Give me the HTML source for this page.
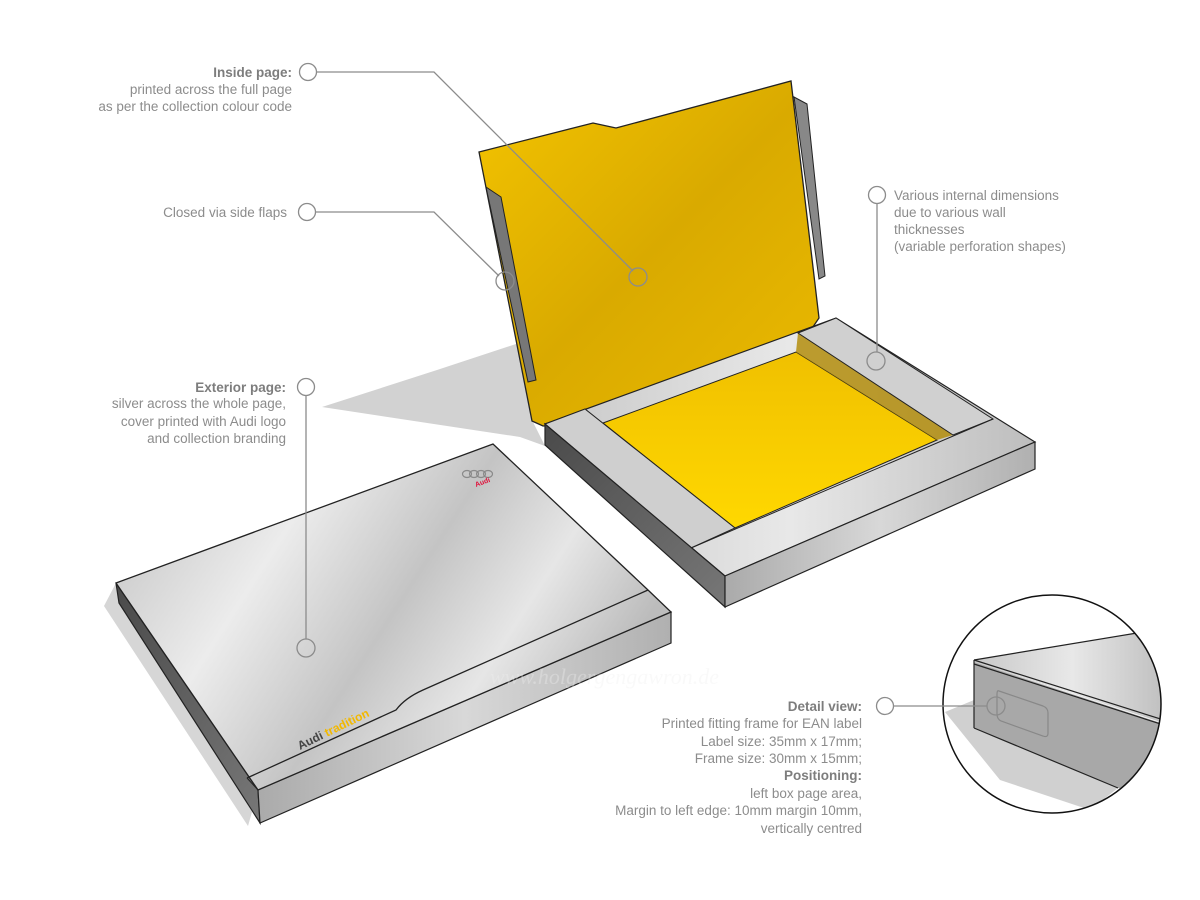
<!DOCTYPE html>
<html><head><meta charset="utf-8"><style>
html,body{margin:0;padding:0;background:#fff;}
svg{display:block;}
text{font-family:"Liberation Sans",sans-serif;font-size:13.5px;fill:#8c8c8c;}
.b{font-weight:bold;fill:#7d7d7d;}
</style></head><body>
<svg width="1200" height="900" viewBox="0 0 1200 900" xmlns="http://www.w3.org/2000/svg">
<defs>
<linearGradient id="yl" x1="0" y1="0" x2="1" y2="1"><stop offset="0" stop-color="#f4c400"/><stop offset=".5" stop-color="#d9aa00"/><stop offset="1" stop-color="#ebba00"/></linearGradient>
<linearGradient id="fl" x1="0" y1="0" x2="0" y2="1"><stop offset="0" stop-color="#f0c000"/><stop offset="1" stop-color="#ffd800"/></linearGradient>
<linearGradient id="sv" x1="0" y1="0" x2="1" y2="0.4"><stop offset="0" stop-color="#bdbdbd"/><stop offset=".35" stop-color="#ececec"/><stop offset=".6" stop-color="#c4c4c4"/><stop offset=".8" stop-color="#e6e6e6"/><stop offset="1" stop-color="#bcbcbc"/></linearGradient>
<linearGradient id="rim" x1="0" y1="0" x2="1" y2="0"><stop offset="0" stop-color="#c8c8c8"/><stop offset=".5" stop-color="#e8e8e8"/><stop offset="1" stop-color="#bdbdbd"/></linearGradient>
<linearGradient id="dk" x1="0" y1="0" x2="1" y2="1"><stop offset="0" stop-color="#4a4a4a"/><stop offset="1" stop-color="#777"/></linearGradient>
<linearGradient id="fr" x1="0" y1="0" x2="1" y2="0"><stop offset="0" stop-color="#aaa"/><stop offset=".5" stop-color="#d8d8d8"/><stop offset="1" stop-color="#b0b0b0"/></linearGradient>
<clipPath id="cc"><circle cx="1052" cy="704" r="109"/></clipPath>
</defs>

<!-- shadows -->
<polygon points="322,407 437,370 522,342 532,420 545,446 520,437" fill="#d2d2d2"/>
<polygon points="104,606 116,583 252,812 248,826" fill="#d6d6d6"/>

<!-- lid of open box -->
<polygon points="479,152 593,123 616,128 791,81 819,318 796,352 603,423 543,426 532,421" fill="url(#yl)" stroke="#222" stroke-width="1.3"/>
<polygon points="486,187 501,197 536,380 528,382 492,215" fill="#777" stroke="#222" stroke-width="1"/>
<polygon points="794,97 807,104 825,276 819,279" fill="#888" stroke="#222" stroke-width="1"/>

<!-- tray -->
<polygon points="545,424 836,318 1035,442 725,576" fill="url(#rim)" stroke="#222" stroke-width="1.2"/>
<polygon points="603,423 796,352 937,440 735,528" fill="url(#fl)" stroke="#222" stroke-width="1"/>
<polygon points="796,352 798,333 953,435 937,440" fill="#b08800" opacity=".8"/>
<polygon points="798,333 836,318 993,419 953,435" fill="#d0d0d0" stroke="#222" stroke-width="1"/>
<polygon points="545,424 585,409 735,528 691,548" fill="#cfcfcf" stroke="#222" stroke-width="1"/>
<polyline points="691,548 993,419" fill="none" stroke="#222" stroke-width="1"/>
<polygon points="545,424 725,576 725,607 545,445" fill="url(#dk)" stroke="#222" stroke-width="1.2"/>
<polygon points="725,576 1035,442 1035,469 725,607" fill="url(#fr)" stroke="#222" stroke-width="1.2"/>

<!-- closed box -->
<polygon points="116,583 258,790 260,823 119,603" fill="url(#dk)" stroke="#222" stroke-width="1.2"/>
<polygon points="258,790 671,612 671,643 260,823" fill="url(#fr)" stroke="#222" stroke-width="1.2"/>
<polygon points="116,583 493,444 648,590 671,612 258,790" fill="url(#sv)" stroke="#222" stroke-width="1.3"/>
<path d="M648,590 L423,690 Q405,698 396,710 L247,778" fill="none" stroke="#222" stroke-width="1.3"/>
<line x1="247" y1="778" x2="258" y2="790" stroke="#222" stroke-width="1"/>
<g fill="none" stroke="#8a8a8a" stroke-width="1.2">
<ellipse cx="467" cy="474" rx="4.5" ry="3.5"/><ellipse cx="474" cy="474" rx="4.5" ry="3.5"/><ellipse cx="481" cy="474" rx="4.5" ry="3.5"/><ellipse cx="488" cy="474" rx="4.5" ry="3.5"/></g>
<text x="476" y="487" style="font-size:7px;fill:#e0103a;font-weight:bold" transform="rotate(-20 476 487)">Audi</text>
<text x="300" y="750" style="font-size:12px;font-weight:bold" transform="rotate(-26 300 750)"><tspan style="fill:#444">Audi </tspan><tspan style="fill:#f2b800">tradition</tspan></text>
<text x="490" y="684" style="font-family:'Liberation Serif',serif;font-style:italic;font-size:22px;fill:#f0f0f0;opacity:.35">www.holgergengawron.de</text>

<!-- detail circle -->
<g clip-path="url(#cc)">
<polygon points="945,712 974,700 974,728 1118,788 1090,810 1000,780" fill="#d0d0d0"/>
<polygon points="974,660 1137,633 1170,630 1170,725 974,662" fill="url(#rim)"/>
<polygon points="974,662 1170,726 1170,800 1118,788 974,728" fill="#a8a8a8"/>
<line x1="974" y1="660" x2="1137" y2="633" stroke="#222" stroke-width="1.2"/>
<line x1="974" y1="660" x2="1170" y2="722" stroke="#222" stroke-width="1.2"/>
<line x1="974" y1="664" x2="1170" y2="727" stroke="#222" stroke-width="1.2"/>
<line x1="974" y1="660" x2="974" y2="728" stroke="#222" stroke-width="1.2"/>
<line x1="974" y1="728" x2="1118" y2="788" stroke="#222" stroke-width="1.2"/>
<path d="M999,691 L1043,706 Q1048,708 1048,713 L1048,733 Q1048,738 1043,736 L1001,721 Q997,719 997,714 L997,694 Q997,690 999,691 Z" fill="none" stroke="#888" stroke-width="1.2"/>
</g>
<circle cx="1052" cy="704" r="109" fill="none" stroke="#111" stroke-width="1.5"/>

<!-- callouts -->
<g fill="none" stroke="#8c8c8c" stroke-width="1.3">
<circle cx="308" cy="72" r="8.5" fill="#fff"/><polyline points="317,72 434,72 633,271"/><circle cx="638" cy="277" r="9"/>
<circle cx="307" cy="212" r="8.5" fill="#fff"/><polyline points="316,212 434,212 499,276"/><circle cx="505" cy="281" r="9"/>
<circle cx="306" cy="387" r="8.5" fill="#fff"/><line x1="306" y1="396" x2="306" y2="639"/><circle cx="306" cy="648" r="9"/>
<circle cx="877" cy="195" r="8.5" fill="#fff"/><line x1="877" y1="204" x2="877" y2="352"/><circle cx="876" cy="361" r="9"/>
<circle cx="885" cy="706" r="8.5" fill="#fff"/><line x1="894" y1="706" x2="987" y2="706"/><circle cx="996" cy="706" r="9"/>
</g>

<g text-anchor="end">
<text x="292" y="77" class="b">Inside page:</text>
<text x="292" y="94">printed across the full page</text>
<text x="292" y="111">as per the collection colour code</text>
<text x="287" y="217">Closed via side flaps</text>
<text x="286" y="392" class="b">Exterior page:</text>
<text x="286" y="408">silver across the whole page,</text>
<text x="286" y="426">cover printed with Audi logo</text>
<text x="286" y="443">and collection branding</text>
<text x="862" y="711" class="b">Detail view:</text>
<text x="862" y="728">Printed fitting frame for EAN label</text>
<text x="862" y="746">Label size: 35mm x 17mm;</text>
<text x="862" y="763">Frame size: 30mm x 15mm;</text>
<text x="862" y="780" class="b">Positioning:</text>
<text x="862" y="798">left box page area,</text>
<text x="862" y="815">Margin to left edge: 10mm margin 10mm,</text>
<text x="862" y="833">vertically centred</text>
</g>
<text x="894" y="200">Various internal dimensions</text>
<text x="894" y="217">due to various wall</text>
<text x="894" y="234">thicknesses</text>
<text x="894" y="251">(variable perforation shapes)</text>
</svg>
</body></html>
